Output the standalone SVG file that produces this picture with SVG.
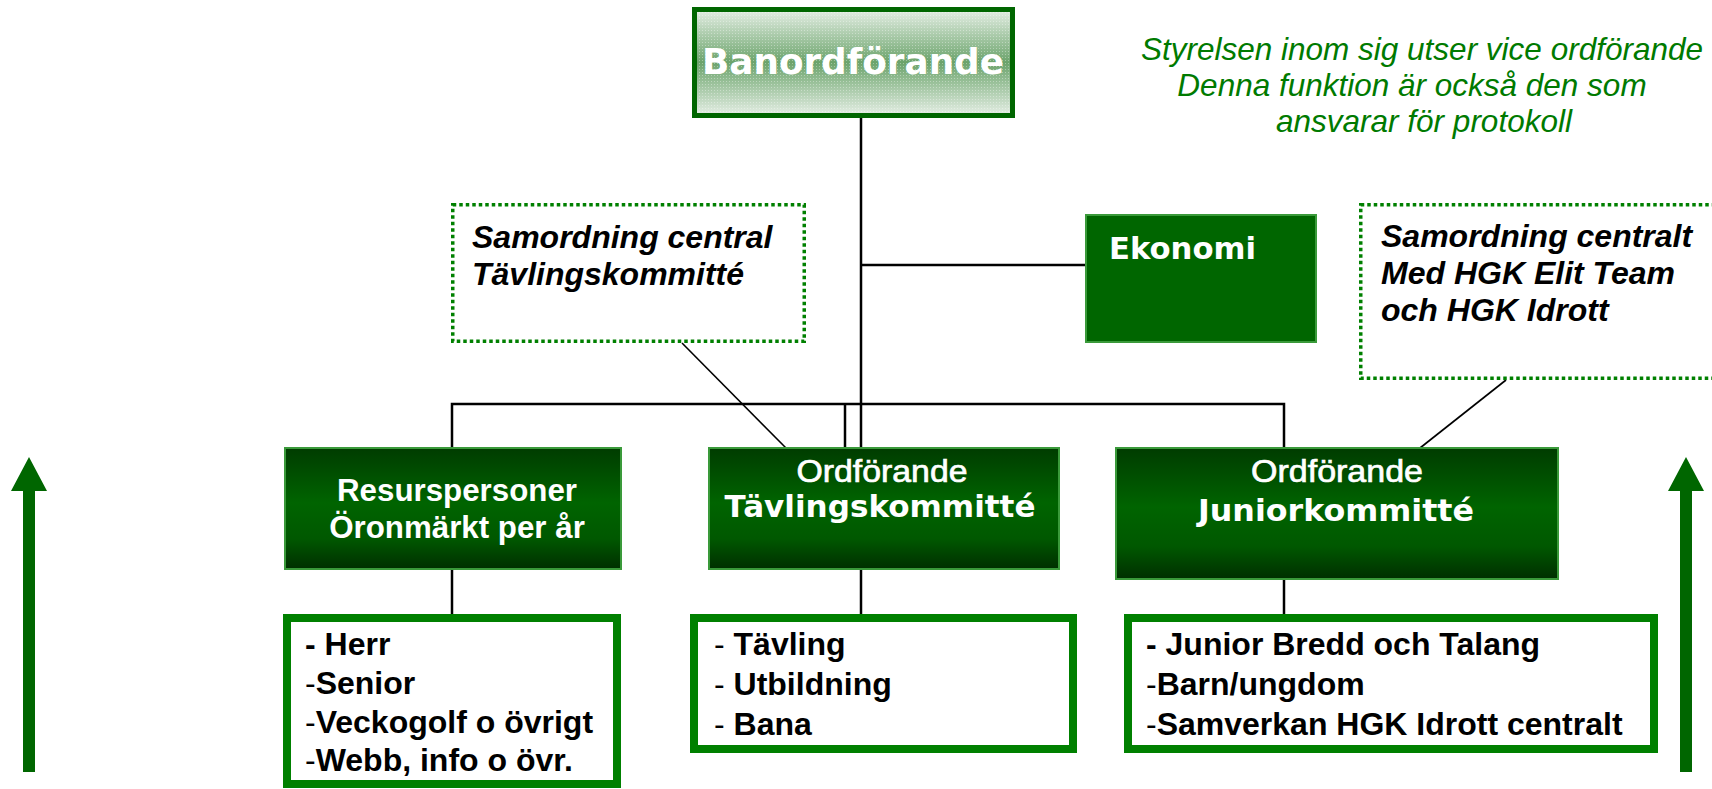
<svg xmlns="http://www.w3.org/2000/svg" width="1712" height="789" viewBox="0 0 1712 789">
<defs>
<linearGradient id="gBox" x1="0" y1="0" x2="0" y2="1">
<stop offset="0" stop-color="#003c00"/>
<stop offset="0.45" stop-color="#006400"/>
<stop offset="0.75" stop-color="#005800"/>
<stop offset="1" stop-color="#002f00"/>
</linearGradient>
<linearGradient id="gTop" x1="0" y1="0" x2="0" y2="1">
<stop offset="0" stop-color="#e6efe6"/>
<stop offset="0.3" stop-color="#9cc29c"/>
<stop offset="0.5" stop-color="#6ba36b"/>
<stop offset="0.7" stop-color="#9cc29c"/>
<stop offset="1" stop-color="#e6efe6"/>
</linearGradient>
<pattern id="dots" width="3" height="3" patternUnits="userSpaceOnUse">
<rect x="0" y="0" width="1" height="1" fill="#ffffff" fill-opacity="0.35"/>
</pattern>
<style>
.node{fill:url(#gBox);stroke:#3a9a3a;stroke-width:2}
.list{fill:#ffffff;stroke:#008000;stroke-width:8}
.dotbox{fill:#ffffff;stroke:#008000;stroke-width:3.5;stroke-dasharray:3.5 3}
.ln{stroke:#000;stroke-width:2.5;fill:none}
.dl{stroke:#000;stroke-width:1.6;fill:none}
.arrow{fill:#006600}
.wt{fill:#ffffff;font-family:"Liberation Sans",Arial,sans-serif;text-anchor:middle}
.wo{stroke:#ffffff;stroke-width:0.7}
.wv{fill:#ffffff;font-family:"DejaVu Sans",Verdana,sans-serif;font-weight:bold}
.it{fill:#000;font-family:"Liberation Sans",Arial,sans-serif;font-weight:bold;font-style:italic;font-size:32px}
.li{fill:#000;font-family:"Liberation Sans",Arial,sans-serif;font-size:32px}
.b{font-weight:bold}
.note{fill:#007a00;font-family:"Liberation Sans",Arial,sans-serif;font-style:italic;font-size:31.5px;text-anchor:middle}
</style>
</defs>
<rect width="1712" height="789" fill="#ffffff"/>

<g id="connectors">
<line class="ln" x1="861" y1="118" x2="861" y2="448"/>
<line class="ln" x1="861" y1="265" x2="1086" y2="265"/>
<polyline class="ln" points="452,448 452,404 1284,404 1284,448"/>
<line class="ln" x1="845" y1="404" x2="845" y2="448"/>
<line class="ln" x1="452" y1="569" x2="452" y2="614"/>
<line class="ln" x1="861" y1="569" x2="861" y2="614"/>
<line class="ln" x1="1284" y1="579" x2="1284" y2="614"/>
<line class="dl" x1="682" y1="343" x2="786" y2="448"/>
<line class="dl" x1="1506" y1="380" x2="1420" y2="448"/>
</g>

<g id="banordforande">
<rect x="694.5" y="9.5" width="318" height="106" fill="url(#gTop)" stroke="#006600" stroke-width="5"/>
<rect x="697" y="12" width="313" height="101" fill="url(#dots)"/>
<text class="wv" x="853" y="74" font-size="36" text-anchor="middle" textLength="302" lengthAdjust="spacingAndGlyphs">Banordförande</text>
</g>

<g id="note">
<text class="note" x="1422" y="60">Styrelsen inom sig utser vice ordförande</text>
<text class="note" x="1412" y="96">Denna funktion är också den som</text>
<text class="note" x="1424" y="132">ansvarar för protokoll</text>
</g>

<g id="samordning-tavling">
<rect class="dotbox" x="452.75" y="204.75" width="351.5" height="136.5"/>
<text class="it" x="472" y="248">Samordning central</text>
<text class="it" x="472" y="285">Tävlingskommitté</text>
</g>

<g id="ekonomi">
<rect x="1086" y="215" width="230" height="127" fill="#006600" stroke="#3a9a3a" stroke-width="2"/>
<text class="wv" x="1109" y="259" font-size="30" textLength="147" lengthAdjust="spacingAndGlyphs">Ekonomi</text>
</g>

<g id="samordning-junior">
<rect class="dotbox" x="1360.75" y="204.75" width="360" height="173.5"/>
<text class="it" x="1381" y="247">Samordning centralt</text>
<text class="it" x="1381" y="284">Med HGK Elit Team</text>
<text class="it" x="1381" y="321">och HGK Idrott</text>
</g>

<g id="resurspersoner">
<rect class="node" x="285" y="448" width="336" height="121"/>
<text class="wt b" x="457" y="501" font-size="31.3">Resurspersoner</text>
<text class="wt b" x="457" y="538" font-size="31.3">Öronmärkt per år</text>
</g>

<g id="ordf-tavling">
<rect class="node" x="709" y="448" width="350" height="121"/>
<text class="wt wo" x="882" y="482" font-size="32" textLength="171" lengthAdjust="spacingAndGlyphs">Ordförande</text>
<text class="wv" x="880" y="517" font-size="30" text-anchor="middle" textLength="311" lengthAdjust="spacingAndGlyphs">Tävlingskommitté</text>
</g>

<g id="ordf-junior">
<rect class="node" x="1116" y="448" width="442" height="131"/>
<text class="wt wo" x="1337" y="482" font-size="32" textLength="172" lengthAdjust="spacingAndGlyphs">Ordförande</text>
<text class="wv" x="1336" y="521" font-size="30" text-anchor="middle" textLength="276" lengthAdjust="spacingAndGlyphs">Juniorkommitté</text>
</g>

<g id="list-resurs">
<rect class="list" x="287" y="618" width="330" height="166"/>
<text class="li b" x="305" y="655">- Herr</text>
<text class="li" x="305" y="694">-<tspan class="b">Senior</tspan></text>
<text class="li" x="305" y="733">-<tspan class="b">Veckogolf o övrigt</tspan></text>
<text class="li" x="305" y="771">-<tspan class="b">Webb, info o övr.</tspan></text>
</g>

<g id="list-tavling">
<rect class="list" x="694" y="618" width="379" height="131"/>
<text class="li" x="714" y="655">- <tspan class="b">Tävling</tspan></text>
<text class="li" x="714" y="695">- <tspan class="b">Utbildning</tspan></text>
<text class="li" x="714" y="735">- <tspan class="b">Bana</tspan></text>
</g>

<g id="list-junior">
<rect class="list" x="1128" y="618" width="526" height="131"/>
<text class="li b" x="1146" y="655">- Junior Bredd och Talang</text>
<text class="li" x="1146" y="695">-<tspan class="b">Barn/ungdom</tspan></text>
<text class="li" x="1146" y="735">-<tspan class="b">Samverkan HGK Idrott centralt</tspan></text>
</g>

<g id="arrow-left">
<polygon class="arrow" points="29,457 47,491 35,491 35,772 23,772 23,491 11,491"/>
</g>
<g id="arrow-right">
<polygon class="arrow" points="1686,457 1704,491 1692,491 1692,772 1680,772 1680,491 1668,491"/>
</g>
</svg>
